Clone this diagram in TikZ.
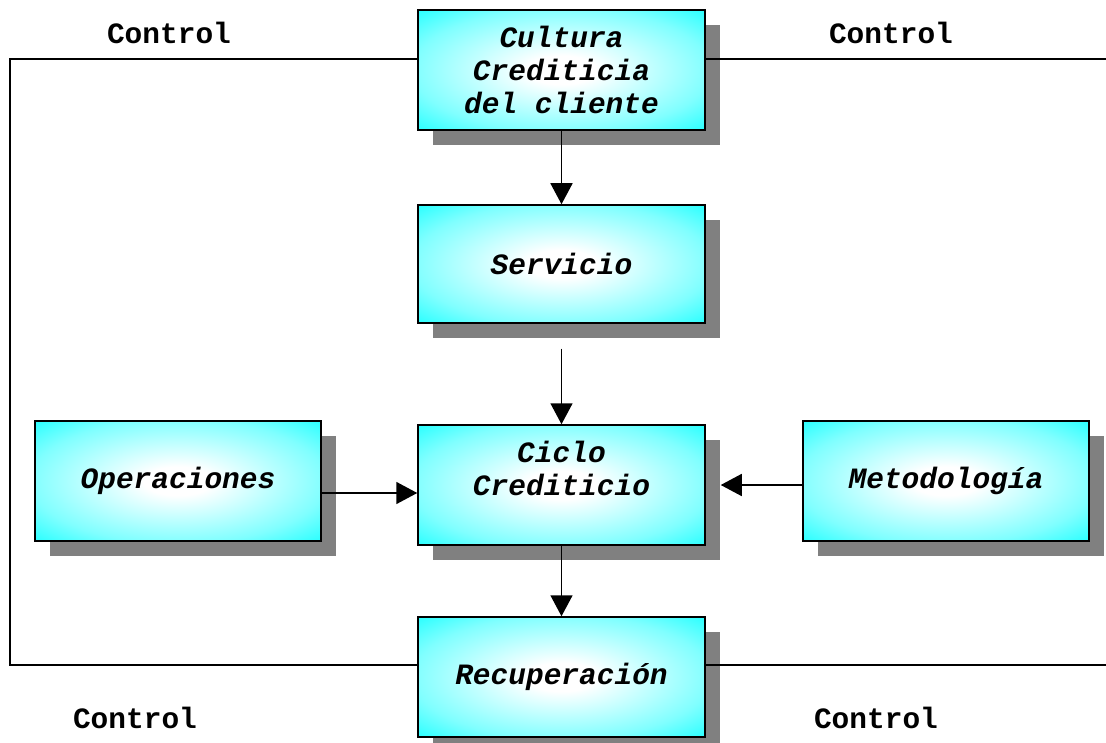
\documentclass[tikz,border=0pt]{standalone}
\usepackage{fontspec}
\setmainfont{Liberation Mono}
\usetikzlibrary{arrows.meta,shadows}
\pgfdeclareradialshading{brillo}{\pgfpoint{0bp}{0bp}}{color(0bp)=(white); color(6bp)=(white); color(26bp)=(cyan!50!white); color(40bp)=(cyan); color(50bp)=(cyan)}
\def\letra{\fontsize{29.5}{33}\selectfont\bfseries}

\begin{document}
\begin{tikzpicture}[x=1pt,y=-1pt]
    \tikzstyle{etapa}=[draw=black,line width=1.5pt,shade,shading=brillo,
      minimum width=287pt,minimum height=120pt,align=center,font=\letra\itshape,
      general shadow={fill=black!50,shadow xshift=15pt,shadow yshift=-15pt}]
    \tikzstyle{linea}=[draw=black,line width=1.6pt]
    \tikzstyle{flecha}=[linea,-{Triangle[length=21pt,width=22pt]}]
    \useasboundingbox (0,0) rectangle (1106,743);
    \node[etapa] (cultura) at (561.5,70) {Cultura\\Crediticia\\del cliente};
    \node[etapa,minimum height=118pt] (servicio) at (561.5,264) {Servicio};
    \node[etapa] (ciclo) at (561.5,485) {Ciclo\\Crediticio\\\mbox{}};
    \node[etapa,minimum width=286pt] (operaciones) at (178,481) {Operaciones};
    \node[etapa,minimum width=286pt] (metodologia) at (946,481) {Metodología};
    \node[etapa] (recuperacion) at (561.5,677) {Recuperación};
    \coordinate (esqNO) at (10,59);
    \coordinate (esqSO) at (10,665);
    \coordinate (bordeNE) at (1106,59);
    \coordinate (bordeSE) at (1106,665);
    \draw[linea] (cultura.west |- esqNO) -- (esqNO) -- (esqSO) -- (recuperacion.west |- esqSO);
    \draw[linea] (cultura.east |- bordeNE) -- (bordeNE);
    \draw[linea] (recuperacion.east |- bordeSE) -- (bordeSE);
    \draw[flecha] (cultura) -- (servicio);
    \draw[flecha] ([yshift=-25pt]servicio.south) -- (ciclo.north);
    \draw[flecha] (ciclo) -- (recuperacion);
    \draw[flecha] ([yshift=-12pt]operaciones.east) -- ([yshift=-12pt]operaciones.east -| ciclo.west);
    \draw[flecha] (metodologia.west |- ciclo.east) -- ([xshift=15pt]ciclo.east);
    \node[font=\letra] (ctrlNO) at (169,33) {Control};
    \node[font=\letra] (ctrlNE) at (891,33) {Control};
    \node[font=\letra] (ctrlSO) at (135,718) {Control};
    \node[font=\letra] (ctrlSE) at (876,718) {Control};
\end{tikzpicture}
\end{document}
